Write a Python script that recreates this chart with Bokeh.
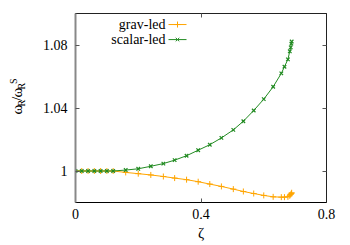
import math
from bokeh.plotting import figure
from bokeh.layouts import row
from bokeh.models import Range1d, FixedTicker, LinearAxis, Label
from bokeh.embed import file_html
from bokeh.resources import INLINE

# ---- data ----
zeta = [0.0, 0.02, 0.04, 0.06, 0.08, 0.10, 0.12, 0.16, 0.20, 0.24, 0.28, 0.316,
        0.354, 0.391, 0.428, 0.465, 0.503, 0.535, 0.568, 0.600, 0.630, 0.656,
        0.666, 0.677, 0.683, 0.686, 0.688, 0.689]
grav_led = [1.0, 1.0, 1.0, 1.0, 1.0, 1.0, 1.0, 0.9991, 0.9983, 0.9975, 0.9965, 0.9955,
            0.9945, 0.9932, 0.9917, 0.9902, 0.9885, 0.9870, 0.9857, 0.9845, 0.9836, 0.9834,
            0.9834, 0.9836, 0.9843, 0.9851, 0.9857, 0.9862]
scalar_led = [1.0, 1.0, 1.0, 1.0, 1.0, 1.0, 1.0, 1.0006, 1.0014, 1.0030, 1.0047, 1.0069,
              1.0097, 1.0132, 1.0167, 1.0210, 1.0261, 1.0316, 1.0384, 1.0456, 1.0535, 1.0620,
              1.0662, 1.0709, 1.0760, 1.0785, 1.0809, 1.0822]
series_names = ["grav-led", "scalar-led"]
x_ticks = [0.0, 0.4, 0.8]
x_tick_labels = ["0", "0.4", "0.8"]
y_ticks = [1.0, 1.04, 1.08]
y_tick_labels = ["1", "1.04", "1.08"]
x_title = "ζ"

# ---- style ----
FONT = "Liberation Serif"
FS = "14px"
ORANGE = "#ffa500"
GREEN = "#228b22"
X0, X1 = 0.0, 0.8
Y0, Y1 = 0.98, 1.10
TITLE_W = 30  # width of the strip holding the rotated y title

p = figure(width=350 - TITLE_W, height=245, output_backend="svg", toolbar_location=None,
           x_range=Range1d(X0, X1), y_range=Range1d(Y0, Y1),
           min_border_left=75 - TITLE_W, min_border_right=24, min_border_top=13,
           min_border_bottom=43)
p.grid.visible = False
p.outline_line_color = "#222222"
p.outline_line_width = 1
p.background_fill_color = "white"
p.border_fill_color = "white"


def style_axis(ax, ticks, labels, show_labels=True):
    ax.ticker = FixedTicker(ticks=ticks)
    ax.major_label_overrides = {t: l for t, l in zip(ticks, labels)}
    ax.minor_tick_line_color = None
    ax.major_tick_in = 4
    ax.major_tick_out = 0
    ax.major_tick_line_color = "#555555"
    ax.major_label_text_font = FONT
    ax.major_label_text_color = "black"
    if show_labels:
        ax.major_label_text_font_size = FS
    else:
        ax.major_label_text_font_size = "0px"
        ax.major_label_text_color = None
        ax.major_label_standoff = 0


xa = p.xaxis[0]
style_axis(xa, x_ticks, x_tick_labels)
xa.axis_line_color = "black"
xa.major_label_standoff = 6
xa.axis_label = x_title
xa.axis_label_text_font = FONT
xa.axis_label_text_font_size = "15px"
xa.axis_label_text_font_style = "normal"
xa.axis_label_text_color = "black"
xa.axis_label_standoff = 3

ya = p.yaxis[0]
style_axis(ya, y_ticks, y_tick_labels)
ya.axis_line_color = "#888888"
ya.axis_line_width = 2
ya.major_label_standoff = 8

top = LinearAxis()
style_axis(top, x_ticks, x_tick_labels, show_labels=False)
top.axis_line_color = "#222222"
p.add_layout(top, "above")
right = LinearAxis()
style_axis(right, y_ticks, y_tick_labels, show_labels=False)
right.axis_line_color = "#222222"
p.add_layout(right, "right")

# ---- series ----
p.line(zeta, grav_led, line_color=ORANGE, line_width=1)
p.scatter(zeta, grav_led, marker="cross", size=6, line_color=ORANGE, line_width=1)
p.line(zeta, scalar_led, line_color=GREEN, line_width=1)
p.scatter(zeta, scalar_led, marker="x", size=5, line_color=GREEN, line_width=1.2)

# ---- legend (gnuplot style: label left, sample right) ----
FRAME_L, FRAME_B = 75, 201.7
px_per_x = 313.75
px_per_y = 1570.0
def dx(px):
    return X0 + (px - FRAME_L) / px_per_x
def dy(py):
    return Y0 + (FRAME_B - py) / px_per_y

leg_rows = [24.3, 39.3]
leg_colors = [ORANGE, GREEN]
leg_markers = ["cross", "x"]
leg_sizes = [6, 5]
for name, row_y, col, mk, sz in zip(series_names, leg_rows, leg_colors, leg_markers, leg_sizes):
    p.add_layout(Label(x=dx(165), y=dy(row_y), text=name, text_align="right",
                       text_baseline="middle", text_font=FONT, text_font_size=FS,
                       text_color="black"))
    p.line([dx(168), dx(186)], [dy(row_y), dy(row_y)], line_color=col, line_width=1)
    p.scatter([dx(177)], [dy(row_y)], marker=mk, size=sz, line_color=col, line_width=1)

# ---- y title strip: omega_R / omega_R^S built from rotated pieces ----
t = figure(width=TITLE_W, height=245, output_backend="svg", toolbar_location=None,
           x_range=Range1d(0, TITLE_W), y_range=Range1d(245, 0),
           min_border_left=0, min_border_right=0, min_border_top=0, min_border_bottom=0)
t.axis.visible = False
t.grid.visible = False
t.outline_line_color = None
t.background_fill_color = "white"
t.border_fill_color = "white"

ytitle = [("ω", "15px", 16.5, 131), ("R", "10px", 21, 120.5), ("/", "15px", 16.5, 113.5),
          ("ω", "15px", 16.5, 109), ("R", "10px", 21, 98.5), ("S", "10px", 12.5, 91.5)]
for txt, fs, px, py in ytitle:
    t.add_layout(Label(x=px, y=py, text=txt, angle=math.pi / 2, text_align="left",
                       text_baseline="middle", text_font=FONT, text_font_size=fs,
                       text_color="black"))

layout = row(t, p, spacing=0)
open("out.html", "w").write(file_html(layout, INLINE))
